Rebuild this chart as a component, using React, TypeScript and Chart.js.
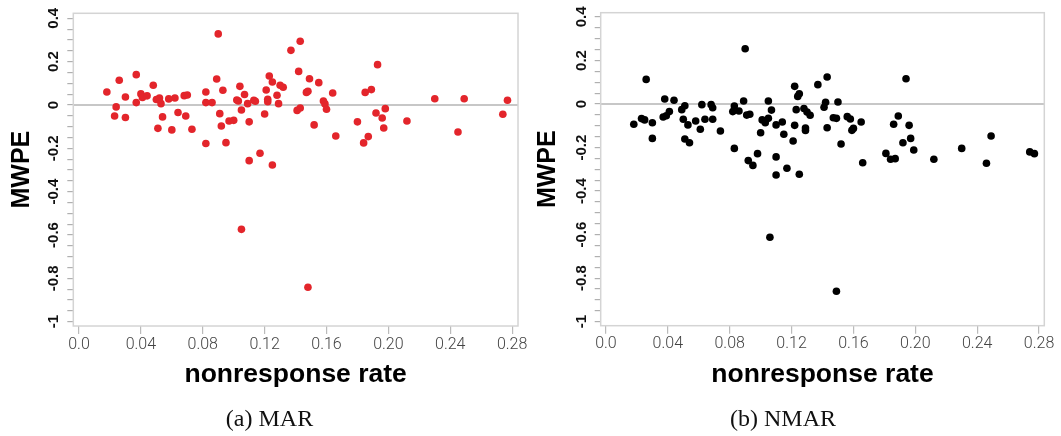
import React, { useEffect, useRef } from "react";
import { Chart, registerables } from "chart.js";

Chart.register(...registerables);

// ---- data ----
const MAR_X = [
  0.018, 0.026, 0.024, 0.023, 0.030, 0.030, 0.037, 0.037, 0.040, 0.041,
  0.044, 0.048, 0.050, 0.052, 0.053, 0.051, 0.054, 0.058, 0.062, 0.064,
  0.060, 0.068, 0.070, 0.069, 0.073, 0.082, 0.082, 0.086, 0.082, 0.090,
  0.089, 0.093, 0.091, 0.092, 0.095, 0.097, 0.100, 0.102, 0.103, 0.104,
  0.107, 0.105, 0.110, 0.109, 0.113, 0.114, 0.110, 0.117, 0.120, 0.121,
  0.123, 0.122, 0.125, 0.125, 0.122, 0.128, 0.129, 0.130, 0.132, 0.137,
  0.143, 0.142, 0.141, 0.143, 0.147, 0.148, 0.149, 0.152, 0.155, 0.158,
  0.159, 0.160, 0.164, 0.166, 0.180, 0.185, 0.189, 0.193, 0.192, 0.196,
  0.198, 0.197, 0.187, 0.184, 0.212, 0.230, 0.245, 0.249, 0.274, 0.277,
  0.105, 0.148,
];
const MAR_Y = [
  0.060, 0.114, -0.009, -0.051, 0.037, -0.058, 0.140, 0.011, 0.051, 0.035,
  0.042, 0.091, 0.025, 0.032, 0.006, -0.108, -0.055, 0.028, 0.032, -0.035,
  -0.115, 0.043, 0.046, -0.051, -0.112, 0.060, 0.011, 0.011, -0.178, 0.328,
  0.120, 0.068, -0.040, -0.097, -0.174, -0.074, -0.071, 0.023, 0.018, 0.086,
  0.048, -0.023, -0.078, 0.006, 0.022, 0.017, -0.257, -0.223, -0.042, 0.069,
  0.134, 0.026, -0.277, 0.106, 0.015, 0.045, 0.006, 0.091, 0.082, 0.252,
  0.294, 0.155, -0.025, -0.014, 0.058, 0.063, 0.121, -0.092, 0.103, 0.018,
  0.005, -0.020, 0.055, -0.143, -0.078, 0.058, 0.071, 0.186, -0.037, -0.060,
  -0.017, -0.106, -0.146, -0.175, -0.074, 0.029, -0.125, 0.029, -0.043, 0.022,
  -0.574, -0.841,
];

const NMAR_X = [
  0.018, 0.023, 0.025, 0.026, 0.030, 0.030, 0.038, 0.037, 0.039, 0.041,
  0.044, 0.049, 0.051, 0.050, 0.053, 0.051, 0.054, 0.058, 0.061, 0.062,
  0.064, 0.068, 0.069, 0.069, 0.074, 0.083, 0.082, 0.083, 0.086, 0.089,
  0.090, 0.091, 0.093, 0.092, 0.095, 0.098, 0.100, 0.101, 0.103, 0.105,
  0.105, 0.107, 0.110, 0.110, 0.110, 0.114, 0.115, 0.117, 0.121, 0.122,
  0.122, 0.124, 0.125, 0.123, 0.128, 0.130, 0.132, 0.129, 0.129, 0.125,
  0.137, 0.143, 0.141, 0.142, 0.150, 0.143, 0.147, 0.149, 0.152, 0.156,
  0.158, 0.160, 0.159, 0.165, 0.166, 0.181, 0.184, 0.187, 0.186, 0.189,
  0.194, 0.192, 0.196, 0.197, 0.199, 0.212, 0.230, 0.246, 0.249, 0.274,
  0.277, 0.106, 0.149,
];
const NMAR_Y = [
  -0.093, -0.067, -0.073, 0.113, -0.086, -0.158, 0.023, -0.060, -0.054, -0.035,
  0.017, -0.026, -0.008, -0.070, -0.096, -0.161, -0.178, -0.078, -0.116, -0.003,
  -0.070, -0.003, -0.017, -0.070, -0.124, -0.009, -0.035, -0.204, -0.032, 0.014,
  0.254, -0.051, -0.047, -0.260, -0.282, -0.228, -0.132, -0.073, -0.086, 0.014,
  -0.066, -0.028, -0.096, -0.243, -0.326, -0.083, -0.139, -0.295, -0.170, -0.098,
  0.081, 0.035, 0.047, -0.026, -0.021, -0.037, -0.052, -0.110, -0.122, -0.323,
  0.089, 0.124, -0.015, 0.008, 0.009, -0.109, -0.063, -0.066, -0.184, -0.058,
  -0.069, -0.112, -0.121, -0.083, -0.270, -0.227, -0.254, -0.251, -0.093, -0.055,
  0.116, -0.178, -0.098, -0.158, -0.211, -0.254, -0.204, -0.272, -0.147, -0.220,
  -0.228, -0.612, -0.860,
];

const X_TICKS = [0, 0.04, 0.08, 0.12, 0.16, 0.2, 0.24, 0.28];
const X_TICK_LABELS = ["0.0", "0.04", "0.08", "0.12", "0.16", "0.20", "0.24", "0.28"];
const Y_LABEL_VALUES = [0.4, 0.2, 0, -0.2, -0.4, -0.6, -0.8, -1];
const Y_LABELS = ["0.4", "0.2", "0", "-0.2", "-0.4", "-0.6", "-0.8", "-1"];
const X_TITLE = "nonresponse rate";
const Y_TITLE = "MWPE";
const CAPTIONS = ["(a) MAR", "(b) NMAR"];

const Y_MINOR: number[] = [];
for (let i = -20; i <= 8; i++) Y_MINOR.push(i / 20);

const SANS = '"Liberation Sans", Arial, Helvetica, sans-serif';

type PanelCfg = {
  xs: number[];
  ys: number[];
  color: string;
  width: number;
  height: number;
  padTop: number;
  padRight: number;
  yWidth: number;
  xHeight: number;
  xMin: number;
  xMax: number;
  yMin: number;
  yMax: number;
  yTitlePad: number;
};

const panelPlugin = {
  id: "panelDecor",
  beforeDatasetsDraw(chart: any) {
    const { ctx, chartArea: a, scales } = chart;
    const y = scales.y;
    ctx.save();
    const y0 = y.getPixelForValue(0);
    ctx.strokeStyle = "#b5b5b5";
    ctx.lineWidth = 1.5;
    ctx.beginPath();
    ctx.moveTo(a.left, y0);
    ctx.lineTo(a.right, y0);
    ctx.stroke();
    ctx.strokeStyle = "#d4d4d4";
    ctx.lineWidth = 1.5;
    ctx.strokeRect(a.left, a.top, a.right - a.left, a.bottom - a.top);
    ctx.fillStyle = "#111";
    ctx.font = "bold 15px " + SANS;
    ctx.textAlign = "center";
    ctx.textBaseline = "middle";
    Y_LABEL_VALUES.forEach((v, i) => {
      const py = y.getPixelForValue(v);
      ctx.save();
      ctx.translate(a.left - 19, py);
      ctx.rotate(-Math.PI / 2);
      ctx.fillText(Y_LABELS[i], 0, 0);
      ctx.restore();
    });
    ctx.restore();
  },
};

function Panel({ cfg }: { cfg: PanelCfg }) {
  const ref = useRef<HTMLCanvasElement>(null);
  useEffect(() => {
    if (!ref.current) return;
    const data = cfg.xs.map((x, i) => ({ x, y: cfg.ys[i] }));
    const chart = new Chart(ref.current, {
      type: "scatter",
      data: {
        datasets: [
          {
            data,
            backgroundColor: cfg.color,
            borderWidth: 0,
            pointRadius: 3.8,
          },
        ],
      },
      plugins: [panelPlugin],
      options: {
        responsive: false,
        animation: false,
        layout: { padding: { top: cfg.padTop, right: cfg.padRight, left: 0, bottom: 0 } },
        plugins: { legend: { display: false }, tooltip: { enabled: false } },
        scales: {
          x: {
            type: "linear",
            min: cfg.xMin,
            max: cfg.xMax,
            afterBuildTicks: (s: any) => {
              s.ticks = X_TICKS.map((v) => ({ value: v }));
            },
            afterFit: (s: any) => {
              s.height = cfg.xHeight;
              s.paddingLeft = 0;
              s.paddingRight = 0;
            },
            ticks: {
              callback: (_v: any, i: number) => X_TICK_LABELS[i],
              font: { family: "Roboto, " + SANS, weight: 300, size: 16 },
              color: "#444",
              padding: 1,
              maxRotation: 0,
              minRotation: 0,
              autoSkip: false,
            },
            grid: { drawOnChartArea: false, drawTicks: true, tickLength: 8, color: "#bbb", lineWidth: 1.2 },
            border: { display: false },
            title: {
              display: true,
              text: X_TITLE,
              color: "#000",
              font: { family: SANS, weight: "bold", size: 26.5 },
              padding: { top: 0, bottom: 45 },
            },
          },
          y: {
            type: "linear",
            min: cfg.yMin,
            max: cfg.yMax,
            afterBuildTicks: (s: any) => {
              s.ticks = Y_MINOR.map((v) => ({ value: v }));
            },
            afterFit: (s: any) => {
              s.width = cfg.yWidth;
              s.paddingTop = 0;
              s.paddingBottom = 0;
            },
            ticks: { display: false },
            grid: { drawOnChartArea: false, drawTicks: true, tickLength: 6, color: "#b0b0b0", lineWidth: 1.2 },
            border: { display: false },
            title: {
              display: true,
              text: Y_TITLE,
              color: "#000",
              font: { family: SANS, weight: "bold", size: 25 },
              padding: { top: cfg.yTitlePad, bottom: 0 },
            },
          },
        },
      },
    } as any);
    return () => chart.destroy();
  }, [cfg]);
  return (
    <canvas
      ref={ref}
      width={cfg.width}
      height={cfg.height}
      style={{ width: cfg.width, height: cfg.height, display: "block" }}
    />
  );
}

const LEFT: PanelCfg = {
  xs: MAR_X,
  ys: MAR_Y,
  color: "#e3252b",
  width: 530,
  height: 436,
  padTop: 13.3,
  padRight: 12,
  yWidth: 73.3,
  xHeight: 110,
  xMin: -0.0037,
  xMax: 0.2838,
  yMin: -1.02,
  yMax: 0.423,
  yTitlePad: 7.5,
};

const RIGHT: PanelCfg = {
  xs: NMAR_X,
  ys: NMAR_Y,
  color: "#000000",
  width: 531,
  height: 436,
  padTop: 12.7,
  padRight: 16.7,
  yWidth: 70.7,
  xHeight: 110.3,
  xMin: -0.0034,
  xMax: 0.2834,
  yMin: -1.0184,
  yMax: 0.4194,
  yTitlePad: 3,
};

export default function App() {
  const capStyle: React.CSSProperties = {
    position: "absolute",
    top: 405,
    transform: "translateX(-50%)",
    fontFamily: '"Liberation Serif", "DejaVu Serif", serif',
    fontSize: 24,
    lineHeight: "26px",
    color: "#111",
    whiteSpace: "nowrap",
  };
  return (
    <div
      style={{
        position: "absolute",
        left: 0,
        top: 0,
        width: 1061,
        height: 436,
        background: "#fff",
        overflow: "hidden",
      }}
    >
      <div style={{ position: "absolute", left: 0, top: 0 }}>
        <Panel cfg={LEFT} />
      </div>
      <div style={{ position: "absolute", left: 530, top: 0 }}>
        <Panel cfg={RIGHT} />
      </div>
      <div style={{ ...capStyle, left: 269.5 }}>{CAPTIONS[0]}</div>
      <div style={{ ...capStyle, left: 783 }}>{CAPTIONS[1]}</div>
    </div>
  );
}
